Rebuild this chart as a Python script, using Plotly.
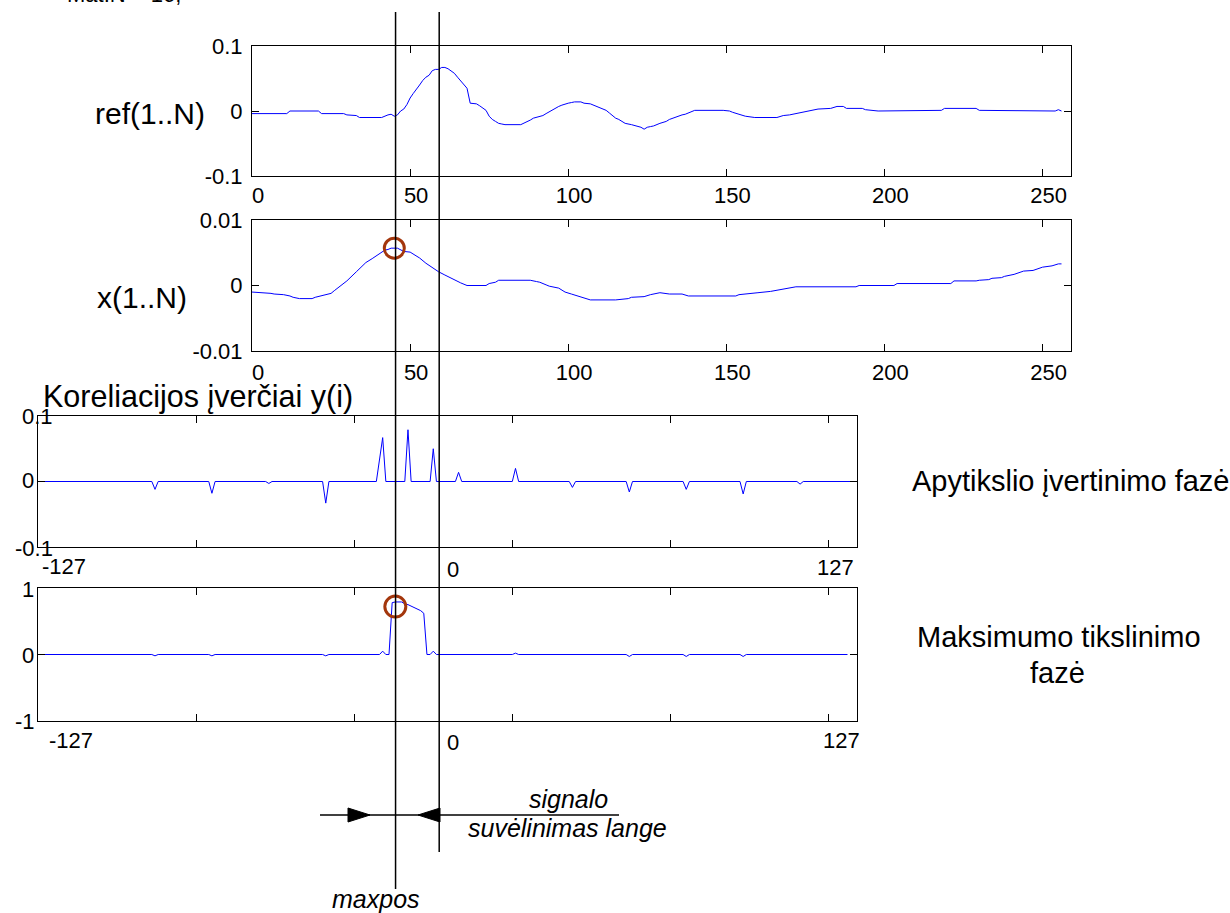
import plotly.graph_objects as go

# ---- signal data (sample index, value) ----
ref_n = [0, 11, 12, 21, 22, 29, 30, 33, 34, 41, 43, 44, 45, 46, 47, 48, 49, 50, 51, 52,
         53, 54, 55, 56, 57, 58, 59, 60, 61, 62, 63, 64, 65, 66, 67, 68, 69, 70, 71, 72,
         73, 74, 75, 76, 77, 78, 79, 80, 85, 86, 87, 88, 89, 90, 91, 92, 93, 94, 95, 96,
         97, 98, 99, 100, 101, 102, 104, 105, 107, 108, 110, 111, 112, 113, 114, 115, 116,
         117, 118, 120, 122, 123, 124, 125, 126, 127, 129, 130, 131, 132, 133, 134, 136,
         137, 138, 139, 140, 149, 151, 152, 153, 154, 156, 157, 159, 166, 167, 168, 170,
         172, 173, 175, 176, 178, 179, 183, 184, 185, 187, 188, 193, 194, 198, 211, 212,
         218, 219, 229, 230, 238, 239, 254, 255, 256]
ref_v = [-0.004, -0.004, 0.0, 0.0, -0.004, -0.004, -0.006, -0.007, -0.010, -0.010,
         -0.006, -0.005, -0.008, -0.006, 0.0, 0.003, 0.010, 0.020, 0.027, 0.033,
         0.040, 0.047, 0.052, 0.055, 0.062, 0.064, 0.064, 0.067, 0.067, 0.065,
         0.062, 0.058, 0.052, 0.046, 0.040, 0.035, 0.012, 0.012, 0.011, 0.008,
         0.004, 0.001, -0.008, -0.013, -0.016, -0.019, -0.020, -0.021, -0.021, -0.019,
         -0.017, -0.014, -0.011, -0.010, -0.009, -0.007, -0.004, -0.001, 0.002, 0.005,
         0.007, 0.009, 0.011, 0.012, 0.013, 0.014, 0.014, 0.012, 0.011, 0.009,
         0.006, 0.004, 0.001, -0.003, -0.007, -0.011, -0.013, -0.016, -0.019, -0.021,
         -0.024, -0.025, -0.028, -0.025, -0.024, -0.023, -0.019, -0.018, -0.016, -0.013,
         -0.011, -0.009, -0.006, -0.005, -0.003, -0.001, 0.001, 0.001, 0.0, -0.002,
         -0.004, -0.005, -0.008, -0.009, -0.010, -0.010, -0.008, -0.007, -0.006, -0.004,
         -0.003, -0.001, 0.0, 0.002, 0.003, 0.004, 0.006, 0.007, 0.007, 0.004,
         0.004, 0.002, 0.0, 0.0, 0.001, 0.001, 0.004, 0.004, 0.001, 0.001,
         0.0, 0.0, 0.002, 0.0]

x_n = [0, 4, 6, 7, 10, 12, 13, 15, 19, 20, 21, 23, 25, 26, 27, 28, 30, 33, 36, 38, 40,
       42, 43, 44, 46, 47, 48, 50, 51, 53, 55, 57, 59, 61, 63, 65, 66, 68, 74, 75, 77,
       78, 88, 90, 91, 93, 94, 97, 99, 101, 103, 105, 107, 115, 119, 120, 124, 126, 128,
       129, 132, 136, 138, 153, 154, 157, 160, 164, 167, 172, 191, 192, 203, 204, 221,
       222, 229, 230, 233, 234, 237, 238, 241, 242, 244, 247, 248, 250, 253, 255, 256]
x_v = [-0.0010, -0.0011, -0.0012, -0.0013, -0.0014, -0.0016, -0.0018, -0.0020, -0.0020,
       -0.0018, -0.0017, -0.0015, -0.0012, -0.0008, -0.0004, -0.0001, 0.0007, 0.0021,
       0.0035, 0.0041, 0.0048, 0.0054, 0.0055, 0.0057, 0.0057, 0.0054, 0.0052, 0.0051,
       0.0048, 0.0042, 0.0034, 0.0027, 0.0021, 0.0016, 0.0011, 0.0006, 0.0004, 0.0,
       0.0, 0.0003, 0.0005, 0.0008, 0.0008, 0.0006, 0.0005, 0.0001, -0.0001, -0.0004,
       -0.0010, -0.0013, -0.0016, -0.0019, -0.0022, -0.0022, -0.0020, -0.0018, -0.0017,
       -0.0014, -0.0012, -0.0011, -0.0013, -0.0013, -0.0016, -0.0016, -0.0014, -0.0013,
       -0.0011, -0.0009, -0.0006, -0.0002, -0.0002, 0.0, 0.0, 0.0003, 0.0003, 0.0007,
       0.0007, 0.0008, 0.0009, 0.0011, 0.0012, 0.0014, 0.0017, 0.0019, 0.0022, 0.0023,
       0.0025, 0.0028, 0.0030, 0.0033, 0.0033]

# coarse correlation estimates y(i)
coarse_n = [0, 36, 37, 38, 54, 55, 56, 72, 73, 74, 90, 91, 92, 107, 109, 110, 116, 117,
            118, 124, 125, 126, 132, 133, 134, 150, 151, 152, 168, 169, 170, 186, 187,
            188, 204, 205, 206, 222, 223, 224, 240, 241, 242, 258]
coarse_v = [0, 0, -0.012, 0, 0, -0.018, 0, 0, -0.003, 0, 0, -0.033, 0, 0, 0.067, 0, 0,
            0.079, 0, 0, 0.050, 0, 0, 0.014, 0, 0, 0.020, 0, 0, -0.009, 0, 0, -0.016, 0,
            0, -0.012, 0, 0, -0.019, 0, 0, -0.004, 0, 0]

# refined correlation around the maximum
fine_n = [0, 36, 37, 38, 54, 55, 56, 90, 91, 92, 108, 109, 110, 111, 112, 113, 115, 116,
          117, 118, 119, 120, 121, 122, 123, 124, 125, 126, 150, 151, 152, 186, 187, 188,
          204, 205, 206, 222, 223, 224, 256]
fine_v = [0, 0, -0.02, 0, 0, -0.02, 0, 0, -0.02, 0, 0, 0.05, 0, 0, 0.78, 0.79, 0.79,
          0.76, 0.75, 0.73, 0.71, 0.69, 0.66, 0.62, 0, 0, 0.05, 0, 0, 0.02, 0, 0, -0.03,
          0, 0, -0.03, 0, 0, -0.03, 0, 0]

# detected maxima
peak_x = [45]
peak_x_val = [0.0057]
peak_y = [113]
peak_y_val = [0.72]

# marker line positions in sample units of the top axes
maxpos_pos = 45.4
window_pos = 59.2

W, H = 1230, 913
FONT = "Arial, 'Liberation Sans', sans-serif"
BLUE = "#0000ff"
BROWN = "#a3360c"


def px(x):
    return x / W


def py(y):
    return 1 - y / H


fig = go.Figure()
fig.add_trace(go.Scatter(x=ref_n, y=ref_v, mode="lines", line=dict(color=BLUE, width=1),
                         xaxis="x", yaxis="y"))
fig.add_trace(go.Scatter(x=x_n, y=x_v, mode="lines", line=dict(color=BLUE, width=1),
                         xaxis="x2", yaxis="y2"))
fig.add_trace(go.Scatter(x=peak_x, y=peak_x_val, mode="markers",
                         marker=dict(symbol="circle-open", size=20, color=BROWN,
                                     line=dict(width=3, color=BROWN)),
                         xaxis="x2", yaxis="y2"))
fig.add_trace(go.Scatter(x=coarse_n, y=coarse_v, mode="lines", line=dict(color=BLUE, width=1),
                         xaxis="x3", yaxis="y3"))
fig.add_trace(go.Scatter(x=fine_n, y=fine_v, mode="lines", line=dict(color=BLUE, width=1),
                         xaxis="x4", yaxis="y4"))
fig.add_trace(go.Scatter(x=peak_y, y=peak_y_val, mode="markers",
                         marker=dict(symbol="circle-open", size=21, color=BROWN,
                                     line=dict(width=3, color=BROWN)),
                         xaxis="x4", yaxis="y4"))

axis_common = dict(showline=True, linecolor="black", linewidth=1, mirror="ticks",
                   ticks="inside", ticklen=7, tickcolor="black", tickwidth=1,
                   showgrid=False, zeroline=False, automargin=False,
                   tickfont=dict(family=FONT, size=22, color="black"))
xticks = [0, 50, 100, 150, 200, 250]


def xdom(a, b):
    return [px(a), px(b)]


def ydom(top, bottom):
    return [py(bottom), py(top)]


layout = dict(
    width=W, height=H, autosize=False,
    margin=dict(l=0, r=0, t=0, b=0, pad=0),
    paper_bgcolor="white", plot_bgcolor="white",
    showlegend=False,
    xaxis=dict(domain=xdom(252, 1071), range=[0, 259], tickvals=xticks,
               ticklabelshift=6, ticklabelstandoff=0, anchor="y", **axis_common),
    yaxis=dict(domain=ydom(46, 176), range=[-0.1, 0.1], tickvals=[-0.1, 0, 0.1],
               ticktext=["-0.1", "0", "0.1"], ticklabelstandoff=4, anchor="x", **axis_common),
    xaxis2=dict(domain=xdom(252, 1071), range=[0, 259], tickvals=xticks,
                ticklabelshift=6, ticklabelstandoff=2, anchor="y2", **axis_common),
    yaxis2=dict(domain=ydom(220, 351), range=[-0.01, 0.01], tickvals=[-0.01, 0, 0.01],
                ticktext=["-0.01", "0", "0.01"], ticklabelstandoff=4, anchor="x2",
                **axis_common),
    xaxis3=dict(domain=xdom(38, 857), range=[0, 259], tickvals=xticks[1:],
                showticklabels=False, anchor="y3", **axis_common),
    yaxis3=dict(domain=ydom(416, 547), range=[-0.1, 0.1], tickvals=[-0.1, 0, 0.1],
                showticklabels=False, anchor="x3", **axis_common),
    xaxis4=dict(domain=xdom(38, 857), range=[0, 259], tickvals=xticks[1:],
                showticklabels=False, anchor="y4", **axis_common),
    yaxis4=dict(domain=ydom(588, 721), range=[-1, 1], tickvals=[-1, 0, 1],
                showticklabels=False, anchor="x4", **axis_common),
)
fig.update_layout(**layout)

shapes = [
    dict(type="line", xref="x", yref="paper", x0=maxpos_pos, x1=maxpos_pos,
         y0=py(889), y1=py(12), line=dict(color="black", width=1.5)),
    dict(type="line", xref="x", yref="paper", x0=window_pos, x1=window_pos,
         y0=py(852), y1=py(12), line=dict(color="black", width=1.5)),
    dict(type="line", xref="paper", yref="paper", x0=px(320), x1=px(619),
         y0=py(815), y1=py(815), line=dict(color="black", width=1.5)),
    dict(type="path", xref="paper", yref="paper",
         path=f"M {px(348)},{py(808)} L {px(370)},{py(815)} L {px(348)},{py(822)} Z",
         fillcolor="black", line=dict(color="black", width=1)),
    dict(type="path", xref="paper", yref="paper",
         path=f"M {px(440)},{py(808)} L {px(418)},{py(815)} L {px(440)},{py(822)} Z",
         fillcolor="black", line=dict(color="black", width=1)),
]
fig.update_layout(shapes=shapes)


def label(text, x, y, size, xanchor="center", italic=False):
    return dict(text=text, xref="paper", yref="paper", x=px(x), y=py(y),
                xanchor=xanchor, yanchor="middle", showarrow=False,
                font=dict(family=FONT, size=size, color="black",
                          style="italic" if italic else "normal"))


annotations = [
    label("Mat.N = 16;", 183, -6, 22, xanchor="right"),
    label("ref(1..N)", 150, 114, 30),
    label("x(1..N)", 142, 297, 30),
    label("Koreliacijos įverčiai y(i)", 41, 396, 30.5, xanchor="left"),
    label("Apytikslio įvertinimo fazė", 1071, 481, 29),
    label("Maksimumo tikslinimo", 1059, 637, 29),
    label("fazė", 1057, 673, 29),
    # y tick labels of the correlation panels
    label("0.1", 20, 416, 22, xanchor="left"),
    label("0", 20, 480, 22, xanchor="left"),
    label("-0.1", 13, 548, 22, xanchor="left"),
    label("1", 20, 589, 22, xanchor="left"),
    label("0", 20, 655, 22, xanchor="left"),
    label("-1", 13, 721, 22, xanchor="left"),
    # lag labels of the correlation panels
    label("-127", 40, 566, 22, xanchor="left"),
    label("0", 445, 569, 22, xanchor="left"),
    label("127", 856, 567, 22, xanchor="right"),
    label("-127", 47, 740, 22, xanchor="left"),
    label("0", 445, 742, 22, xanchor="left"),
    label("127", 862, 740, 22, xanchor="right"),
    # window annotation
    label("signalo", 568, 799, 25, italic=True),
    label("suvėlinimas lange", 567, 828, 25, italic=True),
    label("maxpos", 376, 899, 25, italic=True),
]
fig.update_layout(annotations=annotations)

fig.write_html("out.html")
